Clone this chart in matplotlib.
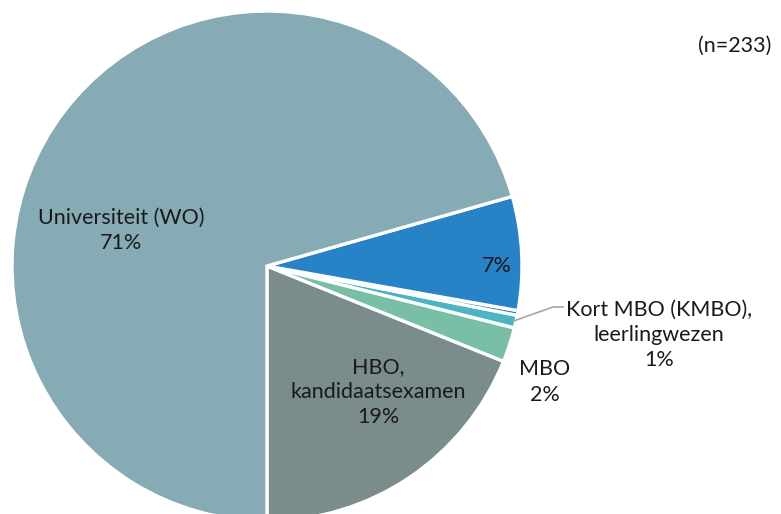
import matplotlib
matplotlib.use("Agg")
import matplotlib.pyplot as plt
import numpy as np

plt.rcParams['font.family'] = ['Lato', 'DejaVu Sans']

# slices, counterclockwise starting at the bottom
categories = ['HBO,\nkandidaatsexamen', 'MBO', 'Kort MBO (KMBO),\nleerlingwezen',
              'Overig', '', 'Universiteit (WO)']
shares = [18.9, 2.2, 0.8, 0.3, 7.2, 70.6]
colors = ['#7A8C8C', '#78BFA6', '#4DB4C4', '#2A7FC0', '#2882C6', '#86ABB5']
n_total = 233

# label positions in pixels of the original picture (x, y from top)
label_px = [(378, 392), (545, 382), (659, 335), None, (497, 266), (121, 230)]

px_per_unit = 255.0
cx, cy = 267.0, 266.0
W, H = 781, 514


def to_data(px, py):
    return (px - cx) / px_per_unit, (cy - py) / px_per_unit


fig = plt.figure(figsize=(W / 100, H / 100), dpi=100)
ax = fig.add_axes([0, 0, 1, 1])

wedges, _ = ax.pie(shares, colors=colors, startangle=-90, counterclock=True,
                   radius=1.0, wedgeprops=dict(edgecolor='white', linewidth=2.4))

for w, cat, val, pos in zip(wedges, categories, shares, label_px):
    if pos is None:
        continue
    pct = f"{round(val):d}%"
    txt = f"{cat}\n{pct}" if cat else pct
    x, y = to_data(*pos)
    ax.text(x, y, txt, ha='center', va='center', fontsize=15.5,
            color='#1a1a1a', linespacing=1.33)

# leader line for the KMBO slice
w = wedges[2]
mid = np.deg2rad((w.theta1 + w.theta2) / 2)
x0, y0 = np.cos(mid) * 0.99, np.sin(mid) * 0.99
x1, y1 = to_data(553, 307)
x2, y2 = to_data(563, 307)
ax.plot([x0, x1, x2], [y0, y1, y2], color='#A6A6A6', lw=1.2)

nx, ny = to_data(735, 46)
ax.text(nx, ny, f"(n={n_total})", ha='center', va='center', fontsize=15.5,
        color='#1a1a1a')

ax.set_xlim(-cx / px_per_unit, (W - cx) / px_per_unit)
ax.set_ylim(-(H - cy) / px_per_unit, cy / px_per_unit)
ax.set_aspect('auto')
ax.axis('off')

fig.savefig('out.png', dpi=100, facecolor='white')
